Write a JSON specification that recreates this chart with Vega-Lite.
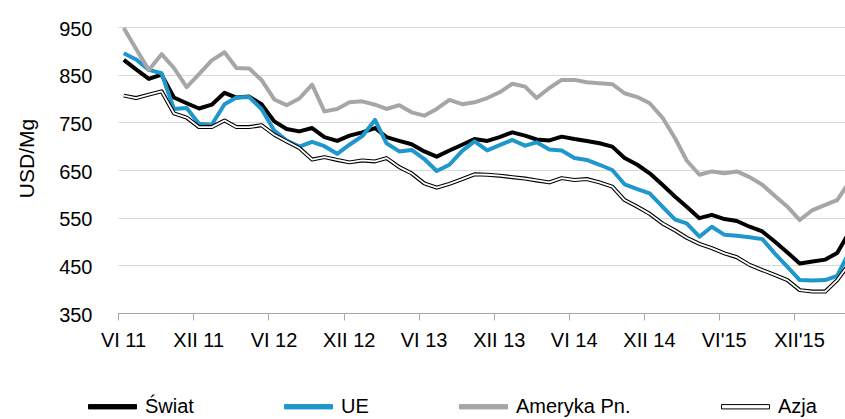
{
"$schema": "https://vega.github.io/schema/vega-lite/v6.json",
"width": 727, "height": 286,
"autosize": "none",
"padding": {"left": 118, "top": 27, "right": 0, "bottom": 106},
"config": {"view": {"stroke": null}, "font": "Liberation Sans, Arial, sans-serif"},
"data": {"values": [
{"m":"2011-06-15","s":"Świat","v":881},{"m":"2011-07-15","s":"Świat","v":861},{"m":"2011-08-15","s":"Świat","v":841},{"m":"2011-09-15","s":"Świat","v":850},{"m":"2011-10-15","s":"Świat","v":802},{"m":"2011-11-15","s":"Świat","v":790},{"m":"2011-12-15","s":"Świat","v":779},{"m":"2012-01-15","s":"Świat","v":787},{"m":"2012-02-15","s":"Świat","v":812},{"m":"2012-03-15","s":"Świat","v":802},
{"m":"2012-04-15","s":"Świat","v":804},{"m":"2012-05-15","s":"Świat","v":788},{"m":"2012-06-15","s":"Świat","v":752},{"m":"2012-07-15","s":"Świat","v":736},{"m":"2012-08-15","s":"Świat","v":731},{"m":"2012-09-15","s":"Świat","v":738},{"m":"2012-10-15","s":"Świat","v":719},{"m":"2012-11-15","s":"Świat","v":711},{"m":"2012-12-15","s":"Świat","v":722},{"m":"2013-01-15","s":"Świat","v":729},
{"m":"2013-02-15","s":"Świat","v":738},{"m":"2013-03-15","s":"Świat","v":719},{"m":"2013-04-15","s":"Świat","v":711},{"m":"2013-05-15","s":"Świat","v":704},{"m":"2013-06-15","s":"Świat","v":689},{"m":"2013-07-15","s":"Świat","v":678},{"m":"2013-08-15","s":"Świat","v":691},{"m":"2013-09-15","s":"Świat","v":703},{"m":"2013-10-15","s":"Świat","v":715},{"m":"2013-11-15","s":"Świat","v":711},
{"m":"2013-12-15","s":"Świat","v":719},{"m":"2014-01-15","s":"Świat","v":729},{"m":"2014-02-15","s":"Świat","v":722},{"m":"2014-03-15","s":"Świat","v":714},{"m":"2014-04-15","s":"Świat","v":712},{"m":"2014-05-15","s":"Świat","v":720},{"m":"2014-06-15","s":"Świat","v":715},{"m":"2014-07-15","s":"Świat","v":711},{"m":"2014-08-15","s":"Świat","v":706},{"m":"2014-09-15","s":"Świat","v":699},
{"m":"2014-10-15","s":"Świat","v":675},{"m":"2014-11-15","s":"Świat","v":661},{"m":"2014-12-15","s":"Świat","v":643},{"m":"2015-01-15","s":"Świat","v":619},{"m":"2015-02-15","s":"Świat","v":594},{"m":"2015-03-15","s":"Świat","v":573},{"m":"2015-04-15","s":"Świat","v":549},{"m":"2015-05-15","s":"Świat","v":556},{"m":"2015-06-15","s":"Świat","v":547},{"m":"2015-07-15","s":"Świat","v":543},
{"m":"2015-08-15","s":"Świat","v":531},{"m":"2015-09-15","s":"Świat","v":521},{"m":"2015-10-15","s":"Świat","v":500},{"m":"2015-11-15","s":"Świat","v":477},{"m":"2015-12-15","s":"Świat","v":454},{"m":"2016-01-15","s":"Świat","v":458},{"m":"2016-02-15","s":"Świat","v":462},{"m":"2016-03-15","s":"Świat","v":476},{"m":"2016-04-15","s":"Świat","v":522},
{"m":"2011-06-15","s":"UE","v":895},{"m":"2011-07-15","s":"UE","v":882},{"m":"2011-08-15","s":"UE","v":860},{"m":"2011-09-15","s":"UE","v":853},{"m":"2011-10-15","s":"UE","v":778},{"m":"2011-11-15","s":"UE","v":780},{"m":"2011-12-15","s":"UE","v":747},{"m":"2012-01-15","s":"UE","v":745},{"m":"2012-02-15","s":"UE","v":788},{"m":"2012-03-15","s":"UE","v":802},
{"m":"2012-04-15","s":"UE","v":803},{"m":"2012-05-15","s":"UE","v":778},{"m":"2012-06-15","s":"UE","v":733},{"m":"2012-07-15","s":"UE","v":712},{"m":"2012-08-15","s":"UE","v":699},{"m":"2012-09-15","s":"UE","v":709},{"m":"2012-10-15","s":"UE","v":700},{"m":"2012-11-15","s":"UE","v":684},{"m":"2012-12-15","s":"UE","v":703},{"m":"2013-01-15","s":"UE","v":721},
{"m":"2013-02-15","s":"UE","v":755},{"m":"2013-03-15","s":"UE","v":706},{"m":"2013-04-15","s":"UE","v":689},{"m":"2013-05-15","s":"UE","v":692},{"m":"2013-06-15","s":"UE","v":673},{"m":"2013-07-15","s":"UE","v":648},{"m":"2013-08-15","s":"UE","v":661},{"m":"2013-09-15","s":"UE","v":690},{"m":"2013-10-15","s":"UE","v":710},{"m":"2013-11-15","s":"UE","v":691},
{"m":"2013-12-15","s":"UE","v":702},{"m":"2014-01-15","s":"UE","v":713},{"m":"2014-02-15","s":"UE","v":701},{"m":"2014-03-15","s":"UE","v":708},{"m":"2014-04-15","s":"UE","v":693},{"m":"2014-05-15","s":"UE","v":691},{"m":"2014-06-15","s":"UE","v":675},{"m":"2014-07-15","s":"UE","v":671},{"m":"2014-08-15","s":"UE","v":661},{"m":"2014-09-15","s":"UE","v":650},
{"m":"2014-10-15","s":"UE","v":620},{"m":"2014-11-15","s":"UE","v":610},{"m":"2014-12-15","s":"UE","v":601},{"m":"2015-01-15","s":"UE","v":573},{"m":"2015-02-15","s":"UE","v":546},{"m":"2015-03-15","s":"UE","v":538},{"m":"2015-04-15","s":"UE","v":510},{"m":"2015-05-15","s":"UE","v":531},{"m":"2015-06-15","s":"UE","v":514},{"m":"2015-07-15","s":"UE","v":512},
{"m":"2015-08-15","s":"UE","v":509},{"m":"2015-09-15","s":"UE","v":505},{"m":"2015-10-15","s":"UE","v":475},{"m":"2015-11-15","s":"UE","v":447},{"m":"2015-12-15","s":"UE","v":419},{"m":"2016-01-15","s":"UE","v":418},{"m":"2016-02-15","s":"UE","v":419},{"m":"2016-03-15","s":"UE","v":428},{"m":"2016-04-15","s":"UE","v":481},
{"m":"2011-06-15","s":"Ameryka Pn.","v":948},{"m":"2011-07-15","s":"Ameryka Pn.","v":904},{"m":"2011-08-15","s":"Ameryka Pn.","v":860},{"m":"2011-09-15","s":"Ameryka Pn.","v":893},{"m":"2011-10-15","s":"Ameryka Pn.","v":864},{"m":"2011-11-15","s":"Ameryka Pn.","v":824},{"m":"2011-12-15","s":"Ameryka Pn.","v":851},{"m":"2012-01-15","s":"Ameryka Pn.","v":880},{"m":"2012-02-15","s":"Ameryka Pn.","v":897},{"m":"2012-03-15","s":"Ameryka Pn.","v":864},
{"m":"2012-04-15","s":"Ameryka Pn.","v":863},{"m":"2012-05-15","s":"Ameryka Pn.","v":839},{"m":"2012-06-15","s":"Ameryka Pn.","v":798},{"m":"2012-07-15","s":"Ameryka Pn.","v":786},{"m":"2012-08-15","s":"Ameryka Pn.","v":800},{"m":"2012-09-15","s":"Ameryka Pn.","v":829},{"m":"2012-10-15","s":"Ameryka Pn.","v":773},{"m":"2012-11-15","s":"Ameryka Pn.","v":778},{"m":"2012-12-15","s":"Ameryka Pn.","v":792},{"m":"2013-01-15","s":"Ameryka Pn.","v":794},
{"m":"2013-02-15","s":"Ameryka Pn.","v":787},{"m":"2013-03-15","s":"Ameryka Pn.","v":778},{"m":"2013-04-15","s":"Ameryka Pn.","v":786},{"m":"2013-05-15","s":"Ameryka Pn.","v":771},{"m":"2013-06-15","s":"Ameryka Pn.","v":764},{"m":"2013-07-15","s":"Ameryka Pn.","v":778},{"m":"2013-08-15","s":"Ameryka Pn.","v":797},{"m":"2013-09-15","s":"Ameryka Pn.","v":788},{"m":"2013-10-15","s":"Ameryka Pn.","v":792},{"m":"2013-11-15","s":"Ameryka Pn.","v":801},
{"m":"2013-12-15","s":"Ameryka Pn.","v":813},{"m":"2014-01-15","s":"Ameryka Pn.","v":831},{"m":"2014-02-15","s":"Ameryka Pn.","v":825},{"m":"2014-03-15","s":"Ameryka Pn.","v":801},{"m":"2014-04-15","s":"Ameryka Pn.","v":822},{"m":"2014-05-15","s":"Ameryka Pn.","v":839},{"m":"2014-06-15","s":"Ameryka Pn.","v":839},{"m":"2014-07-15","s":"Ameryka Pn.","v":834},{"m":"2014-08-15","s":"Ameryka Pn.","v":832},{"m":"2014-09-15","s":"Ameryka Pn.","v":830},
{"m":"2014-10-15","s":"Ameryka Pn.","v":811},{"m":"2014-11-15","s":"Ameryka Pn.","v":803},{"m":"2014-12-15","s":"Ameryka Pn.","v":790},{"m":"2015-01-15","s":"Ameryka Pn.","v":760},{"m":"2015-02-15","s":"Ameryka Pn.","v":716},{"m":"2015-03-15","s":"Ameryka Pn.","v":670},{"m":"2015-04-15","s":"Ameryka Pn.","v":640},{"m":"2015-05-15","s":"Ameryka Pn.","v":647},{"m":"2015-06-15","s":"Ameryka Pn.","v":643},{"m":"2015-07-15","s":"Ameryka Pn.","v":647},
{"m":"2015-08-15","s":"Ameryka Pn.","v":635},{"m":"2015-09-15","s":"Ameryka Pn.","v":619},{"m":"2015-10-15","s":"Ameryka Pn.","v":596},{"m":"2015-11-15","s":"Ameryka Pn.","v":573},{"m":"2015-12-15","s":"Ameryka Pn.","v":545},{"m":"2016-01-15","s":"Ameryka Pn.","v":566},{"m":"2016-02-15","s":"Ameryka Pn.","v":577},{"m":"2016-03-15","s":"Ameryka Pn.","v":587},{"m":"2016-04-15","s":"Ameryka Pn.","v":627},
{"m":"2011-06-15","s":"Azja","v":806},{"m":"2011-07-15","s":"Azja","v":801},{"m":"2011-08-15","s":"Azja","v":808},{"m":"2011-09-15","s":"Azja","v":815},{"m":"2011-10-15","s":"Azja","v":769},{"m":"2011-11-15","s":"Azja","v":760},{"m":"2011-12-15","s":"Azja","v":740},{"m":"2012-01-15","s":"Azja","v":740},{"m":"2012-02-15","s":"Azja","v":754},{"m":"2012-03-15","s":"Azja","v":740},
{"m":"2012-04-15","s":"Azja","v":740},{"m":"2012-05-15","s":"Azja","v":744},{"m":"2012-06-15","s":"Azja","v":724},{"m":"2012-07-15","s":"Azja","v":710},{"m":"2012-08-15","s":"Azja","v":696},{"m":"2012-09-15","s":"Azja","v":672},{"m":"2012-10-15","s":"Azja","v":677},{"m":"2012-11-15","s":"Azja","v":671},{"m":"2012-12-15","s":"Azja","v":666},{"m":"2013-01-15","s":"Azja","v":670},
{"m":"2013-02-15","s":"Azja","v":668},{"m":"2013-03-15","s":"Azja","v":675},{"m":"2013-04-15","s":"Azja","v":656},{"m":"2013-05-15","s":"Azja","v":643},{"m":"2013-06-15","s":"Azja","v":622},{"m":"2013-07-15","s":"Azja","v":613},{"m":"2013-08-15","s":"Azja","v":621},{"m":"2013-09-15","s":"Azja","v":631},{"m":"2013-10-15","s":"Azja","v":641},{"m":"2013-11-15","s":"Azja","v":640},
{"m":"2013-12-15","s":"Azja","v":638},{"m":"2014-01-15","s":"Azja","v":635},{"m":"2014-02-15","s":"Azja","v":632},{"m":"2014-03-15","s":"Azja","v":628},{"m":"2014-04-15","s":"Azja","v":624},{"m":"2014-05-15","s":"Azja","v":633},{"m":"2014-06-15","s":"Azja","v":629},{"m":"2014-07-15","s":"Azja","v":631},{"m":"2014-08-15","s":"Azja","v":624},{"m":"2014-09-15","s":"Azja","v":615},
{"m":"2014-10-15","s":"Azja","v":587},{"m":"2014-11-15","s":"Azja","v":573},{"m":"2014-12-15","s":"Azja","v":558},{"m":"2015-01-15","s":"Azja","v":538},{"m":"2015-02-15","s":"Azja","v":523},{"m":"2015-03-15","s":"Azja","v":508},{"m":"2015-04-15","s":"Azja","v":495},{"m":"2015-05-15","s":"Azja","v":486},{"m":"2015-06-15","s":"Azja","v":475},{"m":"2015-07-15","s":"Azja","v":467},
{"m":"2015-08-15","s":"Azja","v":451},{"m":"2015-09-15","s":"Azja","v":440},{"m":"2015-10-15","s":"Azja","v":430},{"m":"2015-11-15","s":"Azja","v":419},{"m":"2015-12-15","s":"Azja","v":398},{"m":"2016-01-15","s":"Azja","v":395},{"m":"2016-02-15","s":"Azja","v":395},{"m":"2016-03-15","s":"Azja","v":419},{"m":"2016-04-15","s":"Azja","v":455}
]},
"encoding": {
  "x": {"field": "m", "type": "temporal",
    "scale": {"domain": [{"year": 2011, "month": 6, "date": 1}, {"year": 2016, "month": 4, "date": 3}]},
    "axis": {
      "values": [{"year":2011,"month":6,"date":1},{"year":2011,"month":12,"date":1},{"year":2012,"month":6,"date":1},{"year":2012,"month":12,"date":1},{"year":2013,"month":6,"date":1},{"year":2013,"month":12,"date":1},{"year":2014,"month":6,"date":1},{"year":2014,"month":12,"date":1},{"year":2015,"month":6,"date":1},{"year":2015,"month":12,"date":1}],
      "labelExpr": "(month(datum.value)==5?'VI':'XII')+(year(datum.value)>=2015?\"'\":' ')+slice(''+year(datum.value),2)",
      "title": null, "grid": false,
      "domainColor": "#a6a6a6", "domainWidth": 1,
      "tickColor": "#a6a6a6", "tickSize": 7, "tickWidth": 1,
      "labelFontSize": 20, "labelColor": "#000000", "labelPadding": 10, "labelOffset": 5,
      "labelAngle": 0, "labelAlign": "center", "labelFlush": false, "labelOverlap": false
    }},
  "y": {"field": "v", "type": "quantitative",
    "scale": {"domain": [350, 950], "nice": false, "zero": false},
    "axis": {
      "values": [350, 450, 550, 650, 750, 850, 950],
      "title": "USD/Mg", "titleFontSize": 21, "titleFontWeight": "normal", "titleColor": "#000000",
      "titleAngle": 270, "titleX": -85, "titleY": 131, "titleBaseline": "alphabetic", "titleAlign": "center",
      "grid": true, "gridColor": "#d9d9d9", "gridWidth": 1,
      "domain": false, "ticks": false, "tickSize": 0,
      "labelFontSize": 20, "labelColor": "#000000", "labelPadding": 26, "labelAlign": "right", "labelBaseline": "middle", "labelOffset": 2
    }}
},
"layer": [
  {"mark": {"type": "line", "strokeWidth": 4, "clip": true, "strokeJoin": "round"},
   "encoding": {
     "color": {"field": "s", "type": "nominal",
       "scale": {"domain": ["Świat", "UE", "Ameryka Pn.", "Azja"], "range": ["#000000", "#1f96cc", "#a6a6a6", "#000000"]},
       "legend": {
         "orient": "none", "legendX": -30, "legendY": 355, "direction": "horizontal", "title": null,
         "symbolType": "M-1,-0.09L1,-0.09L1,0.09L-1,0.09Z", "symbolSize": 2304, "symbolStrokeWidth": 1,
         "labelFontSize": 20, "labelColor": "#000000", "labelOffset": 8, "columnPadding": 88, "padding": 0, "labelLimit": 300,
         "encode": {"symbols": {"update": {
           "fill": {"signal": "datum.value==='Azja'?'#ffffff':scale('color',datum.value)"},
           "stroke": {"signal": "datum.value==='Azja'?'#000000':scale('color',datum.value)"},
           "strokeWidth": {"value": 1}, "opacity": {"value": 1}}}}
       }}
   }},
  {"transform": [{"filter": "datum.s==='Azja'"}],
   "mark": {"type": "line", "strokeWidth": 1.8, "color": "#ffffff", "clip": true, "strokeJoin": "round"},
   "encoding": {}}
]
}
